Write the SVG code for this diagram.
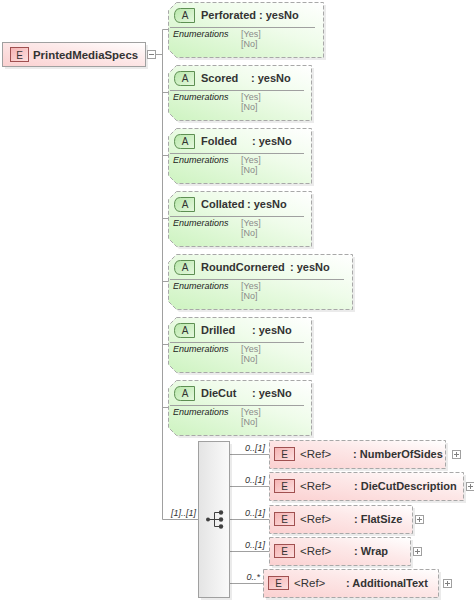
<svg xmlns="http://www.w3.org/2000/svg" width="474" height="602" viewBox="0 0 474 602">
<defs>
<linearGradient id="gAttr" x1="0" y1="1" x2="1" y2="0">
<stop offset="0" stop-color="#cdf3c0"/><stop offset="0.6" stop-color="#effcea"/><stop offset="1" stop-color="#ffffff"/>
</linearGradient>
<linearGradient id="gEl" x1="0" y1="1" x2="1" y2="0">
<stop offset="0" stop-color="#fbd0d0"/><stop offset="0.6" stop-color="#fde9e9"/><stop offset="1" stop-color="#ffffff"/>
</linearGradient>
<linearGradient id="gA" x1="0" y1="0" x2="1" y2="1">
<stop offset="0" stop-color="#b8e8aa"/><stop offset="1" stop-color="#e6f8df"/>
</linearGradient>
<linearGradient id="gE" x1="0" y1="0" x2="1" y2="1">
<stop offset="0" stop-color="#f5b2b2"/><stop offset="1" stop-color="#fde0e0"/>
</linearGradient>
<linearGradient id="gSeq" x1="0" y1="0" x2="1" y2="0">
<stop offset="0" stop-color="#e4e4e4"/><stop offset="1" stop-color="#fafafa"/>
</linearGradient>
</defs>
<style>
.ln{stroke:#a0a0a0;stroke-width:1;fill:none}
.abox{fill:url(#gAttr);stroke:#a8a8a8;stroke-width:1;stroke-dasharray:4,2}
.ebox{fill:url(#gEl);stroke:#a8a8a8;stroke-width:1;stroke-dasharray:4,2}
.shadow{fill:#000;opacity:0.08}
.abadge{fill:url(#gA);stroke:#5d8f52;stroke-width:1}
.ebadge{fill:url(#gE);stroke:#a05050;stroke-width:1}
.sep{stroke:#a0a0a0;stroke-width:1}
.name{font-family:"Liberation Sans",Arial,sans-serif;font-size:11px;font-weight:bold;fill:#333}
.badge{font-family:"Liberation Sans",Arial,sans-serif;font-size:10px;fill:#333;text-anchor:middle}
.ref{font-family:"Liberation Sans",Arial,sans-serif;font-size:11.5px;fill:#333}
.enum{font-family:"Liberation Sans",Arial,sans-serif;font-size:9px;font-style:italic;fill:#222}
.val{font-family:"Liberation Sans",Arial,sans-serif;font-size:9px;fill:#8a8a8a}
.card{font-family:"Liberation Sans",Arial,sans-serif;font-size:9px;font-style:italic;fill:#333;text-anchor:end}
.pm{fill:#fff;stroke:#a0a0a0;stroke-width:1}
.pml{stroke:#808080;stroke-width:1}
</style>

<g id="connectors">
<line class="ln" x1="155" y1="54.5" x2="162.5" y2="54.5"/>
<line class="ln" x1="162.5" y1="29.5" x2="162.5" y2="519.5"/>
<line class="ln" x1="162.5" y1="29.5" x2="168" y2="29.5"/>
<line class="ln" x1="162.5" y1="92.5" x2="168" y2="92.5"/>
<line class="ln" x1="162.5" y1="155.5" x2="168" y2="155.5"/>
<line class="ln" x1="162.5" y1="218.5" x2="168" y2="218.5"/>
<line class="ln" x1="162.5" y1="281.5" x2="168" y2="281.5"/>
<line class="ln" x1="162.5" y1="344.5" x2="168" y2="344.5"/>
<line class="ln" x1="162.5" y1="407.5" x2="168" y2="407.5"/>
<line class="ln" x1="162.5" y1="519.5" x2="198" y2="519.5"/>
<text class="card" x="196" y="516">[1]..[1]</text>
<line class="ln" x1="229" y1="454.5" x2="269" y2="454.5"/>
<text class="card" x="265" y="451">0..[1]</text>
<line class="ln" x1="229" y1="486.5" x2="269" y2="486.5"/>
<text class="card" x="265" y="483">0..[1]</text>
<line class="ln" x1="229" y1="519.5" x2="269" y2="519.5"/>
<text class="card" x="265" y="516">0..[1]</text>
<line class="ln" x1="229" y1="551.5" x2="269" y2="551.5"/>
<text class="card" x="265" y="548">0..[1]</text>
<line class="ln" x1="229" y1="583.5" x2="263" y2="583.5"/>
<text class="card" x="260" y="580">0..*</text>
</g>

<g id="PrintedMediaSpecs">
<rect class="shadow" x="5" y="45" width="143" height="24"/>
<rect x="2.5" y="42.5" width="143" height="24" fill="url(#gEl)" stroke="#a0a0a0"/>
<rect class="ebadge" x="10.5" y="47.5" width="18" height="14"/>
<text class="badge" x="19.5" y="58.5">E</text>
<text class="name" x="33" y="59" style="font-size:11.4px">PrintedMediaSpecs</text>
<rect class="pm" x="147.5" y="50.5" width="8" height="8"/>
<line class="pml" x1="149" y1="54.5" x2="154" y2="54.5"/>
</g>

<g id="Perforated">
<path class="shadow" d="M179,5 H326 V60 H179 L171,52 V13 Z"/>
<path class="abox" d="M176.5,2.5 H323.5 V57.5 H176.5 L168.5,49.5 V10.5 Z"/>
<path class="abadge" d="M180.5,8.5 H194.5 V22.5 H180.5 Q174.5,22.5 174.5,15.5 Q174.5,8.5 180.5,8.5 Z"/>
<text class="badge" x="185" y="19">A</text>
<text class="name" x="201" y="18.5">Perforated</text>
<text class="name" x="259" y="18.5">: yesNo</text>
<line class="sep" x1="170" y1="27.5" x2="315" y2="27.5"/>
<text class="enum" x="173" y="37">Enumerations</text>
<text class="val" x="241" y="37">[Yes]</text>
<text class="val" x="241" y="47">[No]</text>
</g>

<g id="Scored" transform="translate(0,63)">
<path class="shadow" d="M179,5 H314 V60 H179 L171,52 V13 Z"/>
<path class="abox" d="M176.5,2.5 H311.5 V57.5 H176.5 L168.5,49.5 V10.5 Z"/>
<path class="abadge" d="M180.5,8.5 H194.5 V22.5 H180.5 Q174.5,22.5 174.5,15.5 Q174.5,8.5 180.5,8.5 Z"/>
<text class="badge" x="185" y="19">A</text>
<text class="name" x="201" y="18.5">Scored</text>
<text class="name" x="251" y="18.5">: yesNo</text>
<line class="sep" x1="170" y1="27.5" x2="304" y2="27.5"/>
<text class="enum" x="173" y="37">Enumerations</text>
<text class="val" x="241" y="37">[Yes]</text>
<text class="val" x="241" y="47">[No]</text>
</g>

<g id="Folded" transform="translate(0,126)">
<path class="shadow" d="M179,5 H314 V60 H179 L171,52 V13 Z"/>
<path class="abox" d="M176.5,2.5 H311.5 V57.5 H176.5 L168.5,49.5 V10.5 Z"/>
<path class="abadge" d="M180.5,8.5 H194.5 V22.5 H180.5 Q174.5,22.5 174.5,15.5 Q174.5,8.5 180.5,8.5 Z"/>
<text class="badge" x="185" y="19">A</text>
<text class="name" x="201" y="18.5">Folded</text>
<text class="name" x="252" y="18.5">: yesNo</text>
<line class="sep" x1="170" y1="27.5" x2="304" y2="27.5"/>
<text class="enum" x="173" y="37">Enumerations</text>
<text class="val" x="241" y="37">[Yes]</text>
<text class="val" x="241" y="47">[No]</text>
</g>

<g id="Collated" transform="translate(0,189)">
<path class="shadow" d="M179,5 H314 V60 H179 L171,52 V13 Z"/>
<path class="abox" d="M176.5,2.5 H311.5 V57.5 H176.5 L168.5,49.5 V10.5 Z"/>
<path class="abadge" d="M180.5,8.5 H194.5 V22.5 H180.5 Q174.5,22.5 174.5,15.5 Q174.5,8.5 180.5,8.5 Z"/>
<text class="badge" x="185" y="19">A</text>
<text class="name" x="201" y="18.5">Collated</text>
<text class="name" x="247" y="18.5">: yesNo</text>
<line class="sep" x1="170" y1="27.5" x2="304" y2="27.5"/>
<text class="enum" x="173" y="37">Enumerations</text>
<text class="val" x="241" y="37">[Yes]</text>
<text class="val" x="241" y="47">[No]</text>
</g>

<g id="RoundCornered" transform="translate(0,252)">
<path class="shadow" d="M179,5 H355 V60 H179 L171,52 V13 Z"/>
<path class="abox" d="M176.5,2.5 H352.5 V57.5 H176.5 L168.5,49.5 V10.5 Z"/>
<path class="abadge" d="M180.5,8.5 H194.5 V22.5 H180.5 Q174.5,22.5 174.5,15.5 Q174.5,8.5 180.5,8.5 Z"/>
<text class="badge" x="185" y="19">A</text>
<text class="name" x="201" y="18.5">RoundCornered</text>
<text class="name" x="290" y="18.5">: yesNo</text>
<line class="sep" x1="170" y1="27.5" x2="344" y2="27.5"/>
<text class="enum" x="173" y="37">Enumerations</text>
<text class="val" x="241" y="37">[Yes]</text>
<text class="val" x="241" y="47">[No]</text>
</g>

<g id="Drilled" transform="translate(0,315)">
<path class="shadow" d="M179,5 H314 V60 H179 L171,52 V13 Z"/>
<path class="abox" d="M176.5,2.5 H311.5 V57.5 H176.5 L168.5,49.5 V10.5 Z"/>
<path class="abadge" d="M180.5,8.5 H194.5 V22.5 H180.5 Q174.5,22.5 174.5,15.5 Q174.5,8.5 180.5,8.5 Z"/>
<text class="badge" x="185" y="19">A</text>
<text class="name" x="201" y="18.5">Drilled</text>
<text class="name" x="252" y="18.5">: yesNo</text>
<line class="sep" x1="170" y1="27.5" x2="304" y2="27.5"/>
<text class="enum" x="173" y="37">Enumerations</text>
<text class="val" x="241" y="37">[Yes]</text>
<text class="val" x="241" y="47">[No]</text>
</g>

<g id="DieCut" transform="translate(0,378)">
<path class="shadow" d="M179,5 H314 V60 H179 L171,52 V13 Z"/>
<path class="abox" d="M176.5,2.5 H311.5 V57.5 H176.5 L168.5,49.5 V10.5 Z"/>
<path class="abadge" d="M180.5,8.5 H194.5 V22.5 H180.5 Q174.5,22.5 174.5,15.5 Q174.5,8.5 180.5,8.5 Z"/>
<text class="badge" x="185" y="19">A</text>
<text class="name" x="201" y="18.5">DieCut</text>
<text class="name" x="252" y="18.5">: yesNo</text>
<line class="sep" x1="170" y1="27.5" x2="304" y2="27.5"/>
<text class="enum" x="173" y="37">Enumerations</text>
<text class="val" x="241" y="37">[Yes]</text>
<text class="val" x="241" y="47">[No]</text>
</g>

<g id="sequence">
<rect class="shadow" x="201" y="444" width="31" height="156"/>
<rect x="198.5" y="441.5" width="31" height="156" fill="url(#gSeq)" stroke="#a0a0a0"/>
<g stroke="#404040" stroke-width="1" fill="#404040">
<line x1="208" y1="519.5" x2="214.5" y2="519.5"/>
<line x1="214.5" y1="512.5" x2="214.5" y2="526.5"/>
<line x1="214.5" y1="512.5" x2="221" y2="512.5"/>
<line x1="214.5" y1="526.5" x2="221" y2="526.5"/>
<line x1="214.5" y1="519.5" x2="221" y2="519.5"/>
<circle cx="208" cy="519.5" r="2" stroke="none"/>
<circle cx="221" cy="512.5" r="2.2" stroke="none"/>
<circle cx="221" cy="519.5" r="2.2" stroke="none"/>
<circle cx="221" cy="526.5" r="2.2" stroke="none"/>
</g>
</g>

<g id="NumberOfSides">
<rect class="shadow" x="272" y="443" width="176" height="28"/>
<rect class="ebox" x="269.5" y="440.5" width="176" height="28"/>
<rect class="ebadge" x="274.5" y="447.5" width="20" height="13"/>
<text class="badge" x="284.5" y="458">E</text>
<text class="ref" x="300" y="458">&lt;Ref&gt;</text>
<text class="name" x="353" y="458">: NumberOfSides</text>
<rect class="pm" x="452.5" y="450.5" width="8" height="8"/>
<line class="pml" x1="454" y1="454.5" x2="459" y2="454.5"/>
<line class="pml" x1="456.5" y1="452" x2="456.5" y2="457"/>
</g>

<g id="DieCutDescription">
<rect class="shadow" x="272" y="475" width="194" height="28"/>
<rect class="ebox" x="269.5" y="472.5" width="194" height="28"/>
<rect class="ebadge" x="274.5" y="479.5" width="20" height="13"/>
<text class="badge" x="284.5" y="490">E</text>
<text class="ref" x="300" y="490">&lt;Ref&gt;</text>
<text class="name" x="354" y="490">: DieCutDescription</text>
<rect class="pm" x="466.5" y="482.5" width="8" height="8"/>
<line class="pml" x1="468" y1="486.5" x2="473" y2="486.5"/>
<line class="pml" x1="470.5" y1="484" x2="470.5" y2="489"/>
</g>

<g id="FlatSize">
<rect class="shadow" x="272" y="508" width="143" height="28"/>
<rect class="ebox" x="269.5" y="505.5" width="143" height="28"/>
<rect class="ebadge" x="274.5" y="512.5" width="20" height="13"/>
<text class="badge" x="284.5" y="523">E</text>
<text class="ref" x="300" y="523">&lt;Ref&gt;</text>
<text class="name" x="354" y="523">: FlatSize</text>
<rect class="pm" x="415.5" y="515.5" width="8" height="8"/>
<line class="pml" x1="417" y1="519.5" x2="422" y2="519.5"/>
<line class="pml" x1="419.5" y1="517" x2="419.5" y2="522"/>
</g>

<g id="Wrap">
<rect class="shadow" x="272" y="540" width="141" height="28"/>
<rect class="ebox" x="269.5" y="537.5" width="141" height="28"/>
<rect class="ebadge" x="274.5" y="544.5" width="20" height="13"/>
<text class="badge" x="284.5" y="555">E</text>
<text class="ref" x="300" y="555">&lt;Ref&gt;</text>
<text class="name" x="354" y="555">: Wrap</text>
<rect class="pm" x="413.5" y="547.5" width="8" height="8"/>
<line class="pml" x1="415" y1="551.5" x2="420" y2="551.5"/>
<line class="pml" x1="417.5" y1="549" x2="417.5" y2="554"/>
</g>

<g id="AdditionalText">
<rect class="shadow" x="266" y="572" width="175" height="28"/>
<rect class="ebox" x="263.5" y="569.5" width="175" height="28"/>
<rect class="ebadge" x="268.5" y="576.5" width="20" height="13"/>
<text class="badge" x="278.5" y="587">E</text>
<text class="ref" x="294" y="587">&lt;Ref&gt;</text>
<text class="name" x="346" y="587">: AdditionalText</text>
<rect class="pm" x="443.5" y="579.5" width="8" height="8"/>
<line class="pml" x1="445" y1="583.5" x2="450" y2="583.5"/>
<line class="pml" x1="447.5" y1="581" x2="447.5" y2="586"/>
</g>
</svg>
